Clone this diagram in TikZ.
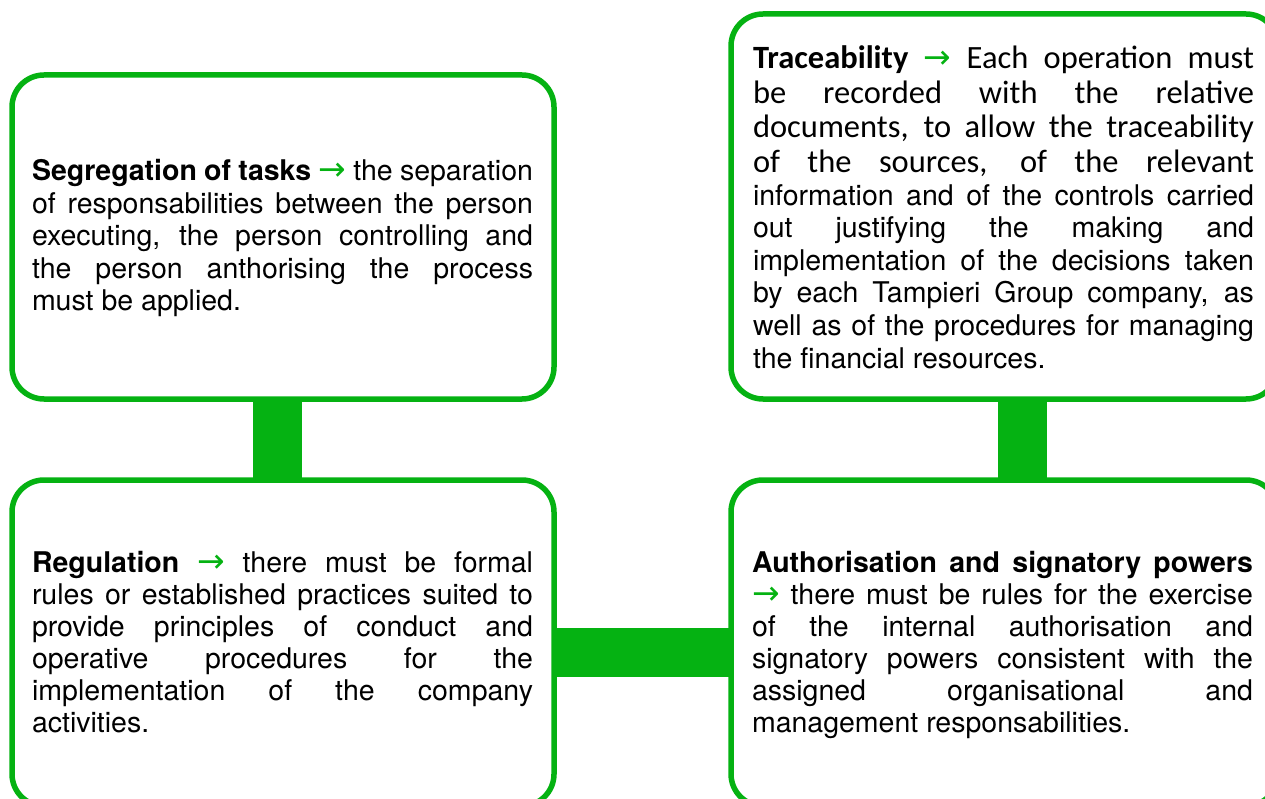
\documentclass[tikz,border=0pt]{standalone}
\usepackage{fontspec}
\setmainfont{TeX Gyre Heros}
\newfontfamily\calib{Carlito}
\newfontfamily\arrowfont{DejaVu Sans}
\definecolor{tgreen}{RGB}{5,178,18}
\newcommand{\garr}{{\arrowfont\fontsize{33pt}{33pt}\selectfont\textcolor{tgreen}{→}}}
\newcommand{\jline}[1]{\hbox to 501pt{#1}}
\newcommand{\nline}[1]{\hbox{#1}}
\newcommand{\grotsize}{\rmfamily\fontsize{28.5pt}{32.4pt}\selectfont}
\newcommand{\calsize}{\calib\fontsize{32.5pt}{34.7pt}\selectfont}
\begin{document}
\begin{tikzpicture}[x=1pt,y=-1pt,
  box/.style={draw=tgreen, line width=5.5pt, rounded corners=32pt, inner sep=0pt, outer sep=0pt},
  bar/.style={draw=tgreen, line width=49pt},
  txt/.style={anchor=base west, inner sep=0pt, outer sep=0pt, text=black}]
\useasboundingbox (0,0) rectangle (1265,799);
\clip (0,0) rectangle (1265,799);
% boxes
\node[box, minimum width=542pt, minimum height=324pt] (b1) at (283,237) {};
\node[box, minimum width=547pt, minimum height=385pt] (b2) at (1004.5,206.5) {};
\node[box, minimum width=542pt, minimum height=326pt] (b3) at (283,643) {};
\node[box, minimum width=547pt, minimum height=326pt] (b4) at (1004.5,643) {};
% connectors
\draw[bar] ([xshift=-5.5pt]b1.south) -- ([xshift=-5.5pt]b3.north);
\draw[bar] ([xshift=18pt]b2.south) -- ([xshift=18pt]b4.north);
\draw[bar] ([yshift=-9.5pt]b3.east) -- ([yshift=-9.5pt]b4.west);
% texts
\node[txt, font=\grotsize] (t1) at (32,181) {\vtop{\baselineskip=32.4pt
  \jline{\textbf{Segregation of tasks} \garr{} the separation}
  \jline{of responsabilities between the person}
  \jline{executing, the person controlling and}
  \jline{the person anthorising the process}
  \nline{must be applied.}}};
\node[txt, font=\calsize] (t2) at (753,68.5) {\vtop{\baselineskip=34.7pt
  \jline{\textbf{Traceability} \garr{} Each operation must}
  \jline{be recorded with the relative}
  \jline{documents, to allow the traceability}
  \jline{of the sources, of the relevant}
  \grotsize\baselineskip=32.6pt
  \jline{information and of the controls carried}
  \jline{out justifying the making and}
  \jline{implementation of the decisions taken}
  \jline{by each Tampieri Group company, as}
  \jline{well as of the procedures for managing}
  \nline{the financial resources.}}};
\node[txt, font=\grotsize] (t3) at (32,572) {\vtop{\baselineskip=32pt
  \jline{\textbf{Regulation} \garr{} there must be formal}
  \jline{rules or established practices suited to}
  \jline{provide principles of conduct and}
  \jline{operative procedures for the}
  \jline{implementation of the company}
  \nline{activities.}}};
\node[txt, font=\grotsize] (t4) at (752,572) {\vtop{\baselineskip=32pt
  \jline{\textbf{Authorisation and signatory powers}}
  \jline{\garr{} there must be rules for the exercise}
  \jline{of the internal authorisation and}
  \jline{signatory powers consistent with the}
  \jline{assigned organisational and}
  \nline{management responsabilities.}}};
\end{tikzpicture}
\end{document}
